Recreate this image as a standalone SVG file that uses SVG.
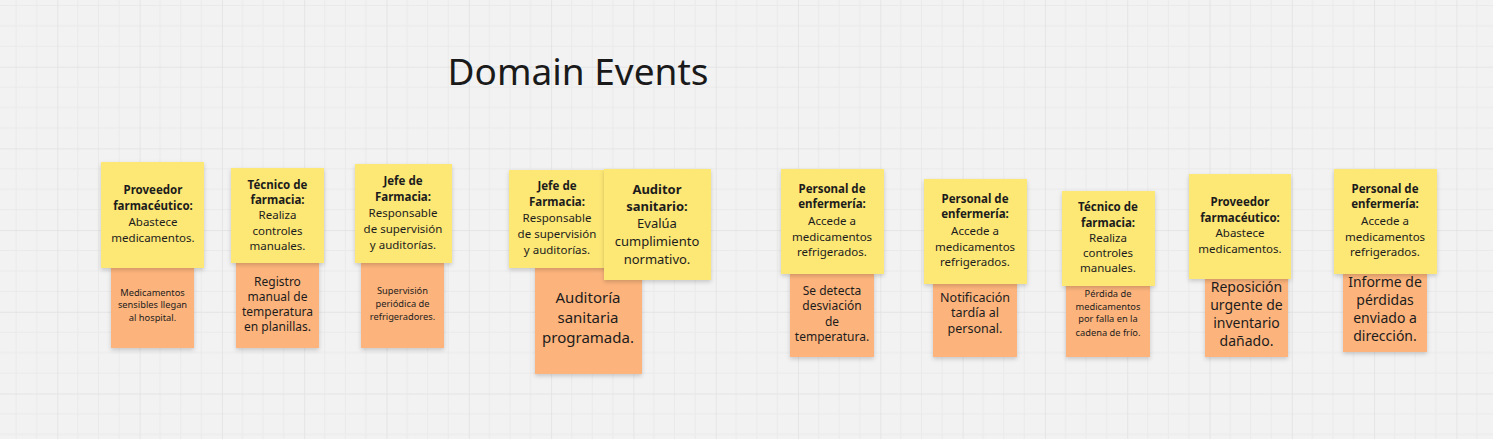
<svg xmlns="http://www.w3.org/2000/svg" width="1493" height="439" viewBox="0 0 1493 439">
<defs>
<pattern id="grid" patternUnits="userSpaceOnUse" x="57.3" y="66.7" width="82.3" height="81.7">
<rect x="20.1" y="0" width="1" height="81.7" fill="#eaeaea"/>
<rect x="40.65" y="0" width="1" height="81.7" fill="#eaeaea"/>
<rect x="61.2" y="0" width="1" height="81.7" fill="#eaeaea"/>
<rect x="0" y="19.9" width="82.3" height="1" fill="#eaeaea"/>
<rect x="0" y="40.35" width="82.3" height="1" fill="#eaeaea"/>
<rect x="0" y="60.8" width="82.3" height="1" fill="#eaeaea"/>
<rect x="-0.7" y="0" width="1.5" height="81.7" fill="#e1e1e1"/>
<rect x="0" y="-0.7" width="82.3" height="1.5" fill="#e1e1e1"/>
</pattern>
<filter id="sh" x="-20%" y="-20%" width="140%" height="150%">
<feDropShadow dx="0" dy="2" stdDeviation="2" flood-color="#000" flood-opacity="0.18"/>
</filter>
</defs>
<style>
.y{fill:#fde774;filter:url(#sh)}
.o{fill:#fdb47c;filter:url(#sh)}
text{font-family:"Noto Sans","Open Sans","Liberation Sans",sans-serif;fill:#1c1c1c;text-anchor:middle}
.b{font-weight:bold}
.s12{font-size:11.5px}
.s9{font-size:9.3px}
.s13{font-size:13px}
.s14{font-size:14px}
.s15{font-size:15px}
.s125{font-size:12.5px}
.s12o{font-size:12px}
</style>
<rect width="1493" height="439" fill="#f2f2f2"/>
<rect width="1493" height="439" fill="url(#grid)"/>
<text id="title" x="578" y="85" style="font-size:37px;fill:#1a1a1a">Domain Events</text>

<g id="note1">
<rect class="o" x="111" y="266" width="83" height="82"/>
<text class="s9" x="152.5" y="295.5">Medicamentos</text>
<text class="s9" x="152.5" y="308">sensibles llegan</text>
<text class="s9" x="152.5" y="320.5">al hospital.</text>
<rect class="y" x="101" y="162" width="103" height="106"/>
<text class="s12 b" x="153" y="194">Proveedor</text>
<text class="s12 b" x="153" y="210">farmacéutico:</text>
<text class="s12" x="153" y="226">Abastece</text>
<text class="s12" x="153" y="242">medicamentos.</text>
</g>

<g id="note2">
<rect class="o" x="236" y="262" width="83" height="86"/>
<text class="s12o" x="277.5" y="286">Registro</text>
<text class="s12o" x="277.5" y="301">manual de</text>
<text class="s12o" x="277.5" y="316">temperatura</text>
<text class="s12o" x="277.5" y="331">en planillas.</text>
<rect class="y" x="231" y="168" width="93" height="95"/>
<text class="s12 b" x="277.5" y="189">Técnico de</text>
<text class="s12 b" x="277.5" y="204">farmacia:</text>
<text class="s12" x="277.5" y="219">Realiza</text>
<text class="s12" x="277.5" y="235">controles</text>
<text class="s12" x="277.5" y="250">manuales.</text>
</g>

<g id="note3">
<rect class="o" x="361" y="262" width="83" height="86"/>
<text class="s9" x="402.5" y="293.5">Supervisión</text>
<text class="s9" x="402.5" y="306.5">periódica de</text>
<text class="s9" x="402.5" y="319.5">refrigeradores.</text>
<rect class="y" x="355" y="164" width="97" height="99"/>
<text class="s12 b" x="403" y="185">Jefe de</text>
<text class="s12 b" x="403" y="201">Farmacia:</text>
<text class="s12" x="403" y="217">Responsable</text>
<text class="s12" x="403" y="233">de supervisión</text>
<text class="s12" x="403" y="249">y auditorías.</text>
</g>

<g id="note4">
<rect class="o" x="535" y="266" width="107" height="108"/>
<text class="s15" x="588" y="303">Auditoría</text>
<text class="s15" x="588" y="323">sanitaria</text>
<text class="s15" x="588" y="343">programada.</text>
<rect class="y" x="509" y="170" width="98" height="98"/>
<text class="s12 b" x="557" y="190">Jefe de</text>
<text class="s12 b" x="557" y="206">Farmacia:</text>
<text class="s12" x="557" y="222">Responsable</text>
<text class="s12" x="557" y="238">de supervisión</text>
<text class="s12" x="557" y="254">y auditorías.</text>
</g>

<g id="note5">
<rect class="y" x="604" y="169" width="107" height="111"/>
<text class="s13 b" x="657" y="194">Auditor</text>
<text class="s13 b" x="657" y="211">sanitario:</text>
<text class="s13" x="657" y="228">Evalúa</text>
<text class="s13" x="657" y="246">cumplimiento</text>
<text class="s13" x="657" y="264">normativo.</text>
</g>

<g id="note6">
<rect class="o" x="790" y="272" width="84" height="85"/>
<text class="s12o" x="832" y="295">Se detecta</text>
<text class="s12o" x="832" y="310">desviación</text>
<text class="s12o" x="832" y="326">de</text>
<text class="s12o" x="832" y="341">temperatura.</text>
<rect class="y" x="781" y="169" width="103" height="105"/>
<text class="s12 b" x="832" y="193">Personal de</text>
<text class="s12 b" x="832" y="208">enfermería:</text>
<text class="s12" x="832" y="225">Accede a</text>
<text class="s12" x="832" y="241">medicamentos</text>
<text class="s12" x="832" y="256">refrigerados.</text>
</g>

<g id="note7">
<rect class="o" x="933" y="282" width="84" height="75"/>
<text class="s125" x="975" y="301.5">Notificación</text>
<text class="s125" x="975" y="316.5">tardía al</text>
<text class="s125" x="975" y="332.5">personal.</text>
<rect class="y" x="924" y="179" width="103" height="105"/>
<text class="s12 b" x="975" y="203">Personal de</text>
<text class="s12 b" x="975" y="218">enfermería:</text>
<text class="s12" x="975" y="235">Accede a</text>
<text class="s12" x="975" y="251">medicamentos</text>
<text class="s12" x="975" y="266">refrigerados.</text>
</g>

<g id="note8">
<rect class="o" x="1066" y="284" width="84" height="73"/>
<text class="s9" x="1108" y="296.5">Pérdida de</text>
<text class="s9" x="1108" y="309.5">medicamentos</text>
<text class="s9" x="1108" y="321.5">por falla en la</text>
<text class="s9" x="1108" y="335.5">cadena de frío.</text>
<rect class="y" x="1062" y="191" width="93" height="95"/>
<text class="s12 b" x="1108" y="211">Técnico de</text>
<text class="s12 b" x="1108" y="226.5">farmacia:</text>
<text class="s12" x="1108" y="242">Realiza</text>
<text class="s12" x="1108" y="257">controles</text>
<text class="s12" x="1108" y="272">manuales.</text>
</g>

<g id="note9">
<rect class="o" x="1205" y="277" width="83" height="80"/>
<text class="s14" x="1246.5" y="292">Reposición</text>
<text class="s14" x="1246.5" y="310">urgente de</text>
<text class="s14" x="1246.5" y="328">inventario</text>
<text class="s14" x="1246.5" y="346">dañado.</text>
<rect class="y" x="1189" y="174" width="102" height="105"/>
<text class="s12 b" x="1240" y="206">Proveedor</text>
<text class="s12 b" x="1240" y="222">farmacéutico:</text>
<text class="s12" x="1240" y="237">Abastece</text>
<text class="s12" x="1240" y="253">medicamentos.</text>
</g>

<g id="note10">
<rect class="o" x="1343" y="272" width="84" height="80"/>
<text class="s14" x="1385" y="287">Informe de</text>
<text class="s14" x="1385" y="305">pérdidas</text>
<text class="s14" x="1385" y="323">enviado a</text>
<text class="s14" x="1385" y="341">dirección.</text>
<rect class="y" x="1334" y="169" width="103" height="105"/>
<text class="s12 b" x="1385" y="193">Personal de</text>
<text class="s12 b" x="1385" y="208">enfermería:</text>
<text class="s12" x="1385" y="225">Accede a</text>
<text class="s12" x="1385" y="241">medicamentos</text>
<text class="s12" x="1385" y="256">refrigerados.</text>
</g>
</svg>
